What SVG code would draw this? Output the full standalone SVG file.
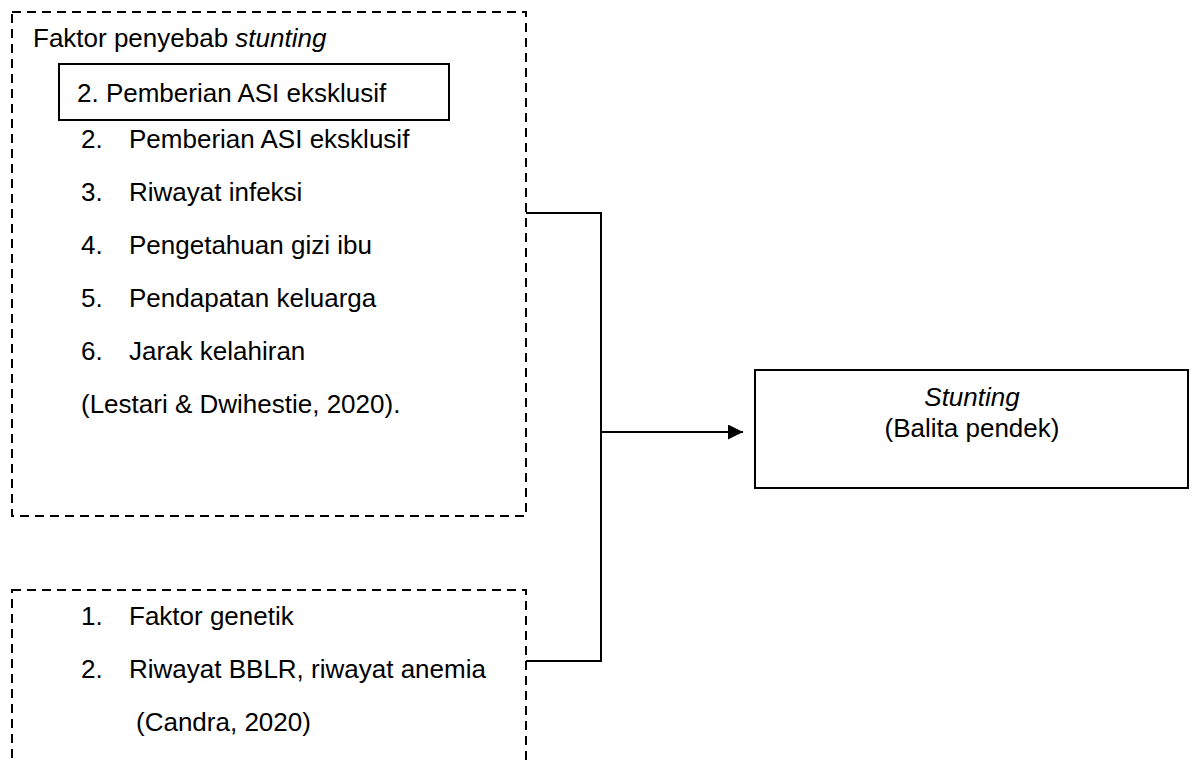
<svg xmlns="http://www.w3.org/2000/svg" width="1194" height="762" viewBox="0 0 1194 762">
  <style>
    .t { font-family: "Liberation Sans", Arial, sans-serif; font-size: 26px; fill: #000; }
    .it { font-style: italic; }
    .dash { fill: none; stroke: #000; stroke-width: 2; stroke-dasharray: 9 6; }
    .box { fill: #fff; stroke: #000; stroke-width: 2; }
    .conn { fill: none; stroke: #000; stroke-width: 2; }
  </style>
  <defs>
    <marker id="arrow" markerWidth="15" markerHeight="15" refX="15" refY="7.5" orient="auto" markerUnits="userSpaceOnUse">
      <path d="M0,0 L15,7.5 L0,15 Z" fill="#000"/>
    </marker>
  </defs>
  <rect width="1194" height="762" fill="#fff"/>

  <g id="faktor-penyebab">
    <rect class="dash" x="12" y="12" width="514" height="504"/>
    <text class="t" x="33" y="47">Faktor penyebab <tspan class="it">stunting</tspan></text>
    <g id="asi-box">
      <rect class="box" x="59" y="64" width="390" height="56"/>
      <text class="t" x="77" y="102">2. Pemberian ASI eksklusif</text>
    </g>
    <text class="t" x="81" y="148">2.</text><text class="t" x="129" y="148">Pemberian ASI eksklusif</text>
    <text class="t" x="81" y="201">3.</text><text class="t" x="129" y="201">Riwayat infeksi</text>
    <text class="t" x="81" y="254">4.</text><text class="t" x="129" y="254">Pengetahuan gizi ibu</text>
    <text class="t" x="81" y="307">5.</text><text class="t" x="129" y="307">Pendapatan keluarga</text>
    <text class="t" x="81" y="360">6.</text><text class="t" x="129" y="360">Jarak kelahiran</text>
    <text class="t" x="81" y="413">(Lestari &amp; Dwihestie, 2020).</text>
  </g>

  <g id="faktor-lain">
    <rect class="dash" x="12" y="590" width="514" height="200"/>
    <text class="t" x="81" y="625">1.</text><text class="t" x="129" y="625">Faktor genetik</text>
    <text class="t" x="81" y="678">2.</text><text class="t" x="129" y="678">Riwayat BBLR, riwayat anemia</text>
    <text class="t" x="136" y="731">(Candra, 2020)</text>
  </g>

  <g id="stunting">
    <rect class="box" x="755" y="370" width="433" height="118"/>
    <text class="t it" x="972" y="406" text-anchor="middle">Stunting</text>
    <text class="t" x="972" y="437" text-anchor="middle">(Balita pendek)</text>
  </g>

  <g id="connectors">
    <path class="conn" d="M526,213 H601 V661 H526"/>
    <path class="conn" d="M601,432 H743" marker-end="url(#arrow)"/>
  </g>
</svg>
